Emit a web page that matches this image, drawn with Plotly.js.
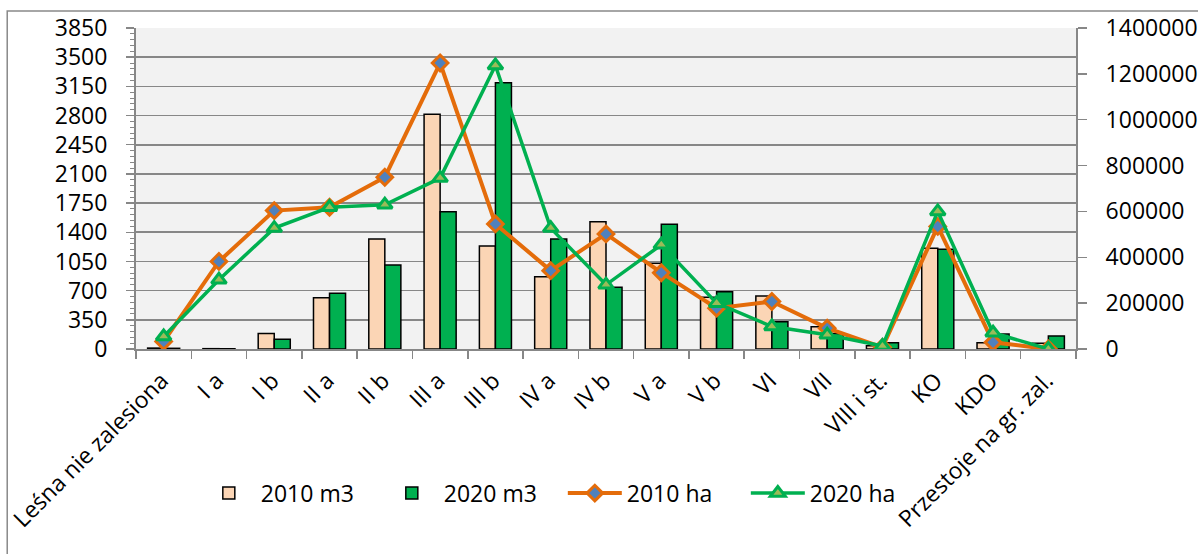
<!DOCTYPE html>
<html>
<head>
<meta charset="utf-8">
<script src="https://cdn.plot.ly/plotly-3.0.1.min.js"></script>
<style>html,body{margin:0;padding:0;background:#fff;}#chart{width:1198px;height:554px;}</style>
</head>
<body>
<div id="chart"></div>
<script>
const categories = ["Leśna nie zalesiona","I a","I b","II a","II b","III a","III b","IV a","IV b","V a","V b","VI","VII","VIII i st.","KO","KDO","Przestoje na gr. zal."];
const m3_2010 = [4000, 1500, 68000, 224000, 480000, 1024000, 449000, 315000, 555000, 374000, 226000, 231000, 97000, 14000, 439000, 27000, 25000];
const m3_2020 = [3000, 1000, 42000, 243000, 366000, 599000, 1161000, 480000, 269000, 544000, 250000, 119000, 68000, 27000, 435000, 65000, 57000];
const ha_2010 = [90, 1050, 1660, 1700, 2060, 3430, 1500, 940, 1380, 915, 490, 570, 250, 20, 1470, 80, 0];
const ha_2020 = [150, 830, 1450, 1700, 1730, 2050, 3400, 1450, 770, 1250, 550, 270, 170, 35, 1650, 195, 0];
const seriesNames = ["2010 m3", "2020 m3", "2010 ha", "2020 ha"];

const FONT = "Open Sans, Noto Sans, sans-serif";
const GRAY = "#878787";

const data = [
  {type:"bar", name:seriesNames[0], x:categories, y:m3_2010, xaxis:"x", yaxis:"y",
   marker:{color:"#FBD5B5", line:{color:"#000000", width:1.5}}},
  {type:"bar", name:seriesNames[1], x:categories, y:m3_2020, xaxis:"x", yaxis:"y",
   marker:{color:"#00B050", line:{color:"#000000", width:1.5}}},
  {type:"scatter", mode:"lines+markers", name:seriesNames[2], x:categories, y:ha_2010, xaxis:"x", yaxis:"y2",
   line:{color:"#E46C0A", width:4},
   marker:{symbol:"diamond", size:12, color:"#4F81BD", line:{color:"#E46C0A", width:3}}},
  {type:"scatter", mode:"lines+markers", name:seriesNames[3], x:categories, y:ha_2020, xaxis:"x", yaxis:"y2",
   line:{color:"#00B050", width:3.5},
   marker:{symbol:"triangle-up", size:13, color:"#9BBB59", line:{color:"#00B050", width:3}}}
];

const layout = {
  width:1198, height:554,
  paper_bgcolor:"#ffffff", plot_bgcolor:"#F2F2F2",
  margin:{l:136, r:122, t:28, b:205, autoexpand:false},
  font:{family:FONT, size:23, color:"#000000"},
  barmode:"group", bargap:0.42, bargroupgap:0,
  showlegend:true,
  legend:{orientation:"h", x:0.0647, y:-0.449, xanchor:"left", yanchor:"middle",
          font:{family:FONT, size:23, color:"#000"}, itemwidth:54, entrywidth:114,
          traceorder:"normal", bgcolor:"rgba(0,0,0,0)"},
  xaxis:{type:"category", range:[-0.5, categories.length - 0.5], tickangle:-45, tickson:"boundaries",
         ticks:"outside", ticklen:8,
         tickcolor:GRAY, tickwidth:1.5, showline:true, linecolor:GRAY, linewidth:2,
         showgrid:false, automargin:false, ticklabelshift:-2, ticklabelstandoff:7,
         tickfont:{family:FONT, size:23}},
  yaxis:{side:"right", range:[0,1400000], dtick:200000, tickformat:"d", showgrid:false,
         zeroline:false, showline:true, linecolor:GRAY, linewidth:2, ticks:"outside",
         ticklen:9, tickcolor:GRAY, tickwidth:1.5, ticklabelstandoff:14, automargin:false,
         tickfont:{family:FONT, size:23}},
  yaxis2:{overlaying:"y", side:"left", range:[0,3850], dtick:350, showgrid:true,
          gridcolor:GRAY, gridwidth:1.6, zeroline:false, showline:true, linecolor:GRAY,
          linewidth:2, ticks:"outside", ticklen:8, tickcolor:GRAY, tickwidth:1.5,
          minor:{dtick:70, ticks:"outside", ticklen:4, tickcolor:GRAY, tickwidth:1, showgrid:false},
          ticklabelstandoff:14, automargin:false, tickfont:{family:FONT, size:23}},
  shapes:[{type:"rect", xref:"paper", yref:"paper", x0:-0.137, x1:1.3, y0:-0.9, y1:1.053,
           line:{color:"#898989", width:1.5}, fillcolor:"rgba(0,0,0,0)", layer:"below"}]
};

Plotly.newPlot("chart", data, layout, {displayModeBar:false, staticPlot:true});
</script>
</body>
</html>
